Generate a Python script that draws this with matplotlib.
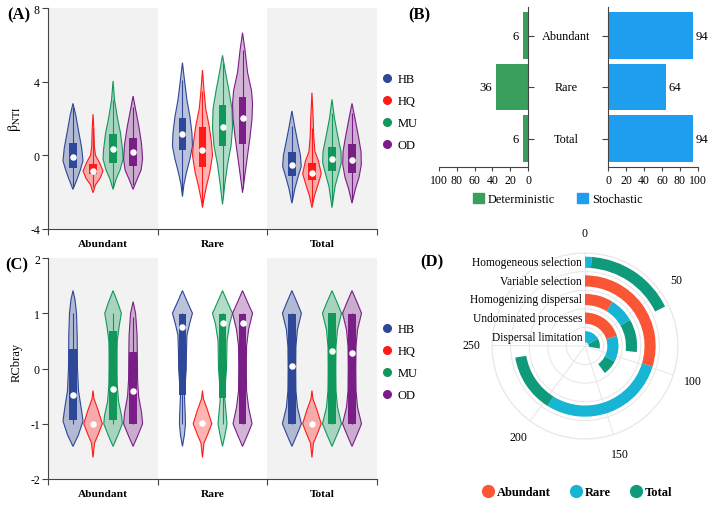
import numpy as np
import matplotlib
matplotlib.use('Agg')
import matplotlib.pyplot as plt
from matplotlib.lines import Line2D
from matplotlib.patches import Patch
from matplotlib.colors import to_rgba
import matplotlib.transforms as mtransforms

plt.rcParams['font.family'] = ['Liberation Serif', 'DejaVu Serif']
plt.rcParams['mathtext.fontset'] = 'stix'
plt.rcParams['axes.unicode_minus'] = False

# ---------------- data ----------------
groups = ['Abundant', 'Rare', 'Total']
sites = ['HB', 'HQ', 'MU', 'OD']
site_colors = ['#2e4796', '#ff1a1a', '#12975a', '#7a1e87']

# Panel A (betaNTI) violin outlines: y values and half-widths (px) per site
A_abundant_ys = [[2.82, 2.2, 1.2, 0.4, -0.3, -0.8, -1.3, -1.85],
                 [2.23, 1.5, 0.5, 0.0, -0.4, -0.85, -1.25, -1.6, -2.03],
                 [4.04, 3.0, 2.0, 1.2, 0.3, -0.2, -0.8, -1.3, -1.85],
                 [3.22, 2.5, 1.5, 0.6, -0.2, -0.8, -1.3, -1.85]]
A_abundant_ws = [[0, 2.7, 6, 8.7, 10, 7.3, 4, 0],
                 [0, 0.8, 1.3, 2.5, 6.5, 10, 7, 2.5, 0],
                 [0, 1.5, 4.5, 7.5, 9.5, 10, 7, 3, 0],
                 [0, 2.5, 6, 8.5, 9.5, 8, 4, 0]]
A_rare_ys = [[5.03, 4.1, 3.0, 2.1, 1.2, 0.5, -0.2, -0.94, -1.57, -2.24],
             [4.63, 3.4, 2.5, 1.6, 0.7, 0.0, -0.94, -1.67, -2.4, -2.84],
             [5.43, 4.5, 3.5, 2.5, 1.5, 0.5, -0.5, -1.5, -2.66],
             [6.66, 5.7, 4.5, 3.5, 2.8, 2.0, 1.0, 0.0, -1.0, -2.03]]
A_rare_ws = [[0, 2, 4.5, 7.5, 9.5, 10, 7.5, 4, 1.5, 0],
             [0, 1.7, 3.3, 6.7, 9, 10, 7.3, 4, 1.3, 0],
             [0, 3, 6.5, 9.5, 10, 8.5, 5, 2.5, 0],
             [0, 2.5, 5, 9, 10, 9.5, 7.5, 5, 2.5, 0]]
A_total_ys = [[2.41, 1.5, 0.8, 0.0, -0.6, -1.2, -1.8, -2.6],
              [3.4, 2.0, 1.0, 0.2, -0.3, -1.0, -1.6, -2.2, -2.84],
              [3.04, 2.0, 1.0, 0.2, -0.4, -1.0, -1.7, -2.84],
              [2.82, 2.0, 1.0, 0.2, -0.5, -1.2, -1.8, -2.6]]
A_total_ws = [[0, 3, 5.5, 8.5, 9.3, 6, 3, 0],
              [0, 1.2, 1.8, 3, 6.5, 9.3, 6, 2.5, 0],
              [0, 2.5, 6, 9, 9.3, 6.5, 3, 0],
              [0, 3, 6.5, 9, 9.3, 7, 3.5, 0]]
A_q1 = [[-0.67, -1.03, -0.4, -0.58], [0.29, -0.62, 0.51, 0.63], [-1.12, -1.36, -0.85, -0.98]]
A_q3 = [[0.69, -0.49, 1.14, 0.96], [2.05, 1.54, 2.71, 3.19], [0.18, -0.4, 0.45, 0.6]]
A_med = [[-0.07, -0.85, 0.33, 0.18], [1.16, 0.29, 1.54, 2.01], [-0.51, -0.98, -0.22, -0.25]]
A_wlo = [[-1.7, -1.7, -1.7, -1.6], [-2.0, -2.6, -2.3, -1.8], [-2.4, -2.6, -2.6, -2.4]]
A_whi = [[2.6, 1.5, 3.0, 2.6], [4.1, 3.5, 5.0, 5.7], [1.6, 1.5, 2.3, 2.3]]

# Panel C (RCbray) violin outlines
C_abundant_ys = [[1.41, 1.25, 1.0, 0.6, 0.0, -0.4, -0.75, -0.95, -1.2, -1.41],
                 [-0.4, -0.55, -0.75, -1.0, -1.2, -1.35, -1.61],
                 [1.41, 1.2, 1.0, 0.75, 0.5, 0.3, 0.0, -0.3, -0.6, -0.85, -1.0, -1.2, -1.41],
                 [1.21, 1.0, 0.6, 0.2, -0.2, -0.5, -0.8, -1.0, -1.2, -1.41]]
C_abundant_ws = [[0, 2, 3.5, 4.2, 4.5, 5.5, 8.5, 10, 5.5, 0],
                 [0, 1, 5, 9.3, 5, 1.5, 0],
                 [0, 4.5, 8.3, 6, 4.2, 4, 4, 4.2, 5.5, 8.5, 9.3, 5, 0],
                 [0, 2.5, 4, 4.3, 4.5, 5.5, 8.5, 9.5, 5, 0]]
C_rare_ys = [[1.41, 1.2, 1.0, 0.8, 0.6, 0.3, 0.0, -0.5, -0.8, -1.0, -1.2, -1.41],
             [-0.4, -0.55, -0.75, -1.0, -1.2, -1.35, -1.61],
             [1.41, 1.2, 1.0, 0.8, 0.5, 0.0, -0.5, -0.8, -1.0, -1.2, -1.41],
             [1.41, 1.2, 1.0, 0.7, 0.4, 0.0, -0.4, -0.7, -1.0, -1.2, -1.41]]
C_rare_ws = [[0, 5, 10, 7, 4.5, 4, 3.8, 2, 2.7, 3, 2, 0],
             [0, 1, 5, 9.3, 5, 1.5, 0],
             [0, 5, 10, 7, 4.5, 4, 2, 3.5, 4.5, 2.5, 0],
             [0, 5, 10, 6, 4, 3.8, 4, 6, 9.5, 5, 0]]
C_total_ys = [[1.41, 1.2, 1.0, 0.7, 0.4, 0.0, -0.4, -0.7, -1.0, -1.2, -1.41],
              [-0.4, -0.55, -0.75, -1.0, -1.2, -1.35, -1.61],
              [1.41, 1.2, 1.0, 0.7, 0.4, 0.0, -0.4, -0.7, -1.0, -1.2, -1.41],
              [1.41, 1.2, 1.0, 0.7, 0.4, 0.0, -0.4, -0.7, -1.0, -1.2, -1.41]]
C_total_ws = [[0, 5, 9.5, 5.5, 4, 3.8, 4, 5.5, 9.5, 5, 0],
              [0, 1, 5, 9.3, 5, 1.5, 0],
              [0, 5, 9.5, 5.5, 4, 3.8, 4, 5.5, 9.5, 5, 0],
              [0, 5, 9.5, 5.5, 4, 3.8, 4, 5.5, 9.5, 5, 0]]
C_q1 = [[-0.93, -1.0, -0.93, -1.0], [-0.48, -1.0, -0.54, -1.0], [-1.0, -1.0, -1.0, -1.0]]
C_q3 = [[0.36, -1.0, 0.67, 0.3], [0.99, -1.0, 0.99, 0.99], [0.99, -1.0, 1.0, 0.98]]
C_med = [[-0.48, -1.0, -0.38, -0.4], [0.76, -0.99, 0.82, 0.82], [0.05, -1.0, 0.31, 0.28]]
C_wlo = [[-1.0, -1.0, -1.0, -1.0], [-1.0, -1.0, -1.0, -1.0], [-1.0, -1.0, -1.0, -1.0]]
C_whi = [[1.0, -1.0, 1.0, 0.93], [1.0, -1.0, 1.0, 1.0], [1.0, -1.0, 1.0, 1.0]]

# Panel B
B_cats = ['Abundant', 'Rare', 'Total']
B_det = [6, 36, 6]
B_sto = [94, 64, 94]

# Panel D
D_procs = ['Homogeneous selection', 'Variable selection', 'Homogenizing dispersal',
           'Undominated processes', 'Dispersal limitation']
D_series = ['Abundant', 'Rare', 'Total']
D_abundant = [0.5, 99, 29.5, 67, 0.5]
D_rare = [3.5, 97, 26, 42, 56]
D_total = [55, 45, 34, 24, 36]
D_ticks = [0, 50, 100, 150, 200, 250]
D_full = 333.0
D_colors = ['#fa5535', '#18b4d4', '#0f9a7c']

# ---------------- figure ----------------
W, H = 713, 506
fig = plt.figure(figsize=(W / 100, H / 100), dpi=100)


def fx(px):
    return px / W


def fy(py):
    return 1 - py / H


def violin_panel(ax, ys_groups, ws_groups, q1, q3, med, wlo, whi, ylim, yticks):
    ax.set_xlim(-0.5, 2.5)
    ax.set_ylim(*ylim)
    for g in (0, 2):
        ax.axvspan(g - 0.5, g + 0.5, color='#f2f2f2', zorder=0, lw=0)
    px_unit = ax.get_position().width * W / 3.0
    offsets = (np.arange(4) - 1.5) * 0.183
    box_hw = 3.7 / px_unit
    for g in range(3):
        for s in range(4):
            pos = g + offsets[s]
            col = site_colors[s]
            ys = np.array(ys_groups[g][s])
            ws = np.array(ws_groups[g][s]) / px_unit
            xs = np.concatenate([pos - ws, (pos + ws)[::-1]])
            yy = np.concatenate([ys, ys[::-1]])
            ax.fill(xs, yy, facecolor=to_rgba(col, 0.33), edgecolor=col, lw=0.8, zorder=2)
            ax.vlines(pos, wlo[g][s], whi[g][s], color=col, lw=0.8, zorder=2.5)
            ax.bar(pos, q3[g][s] - q1[g][s], width=2 * box_hw, bottom=q1[g][s],
                   color=col, zorder=3, lw=0)
            ax.scatter([pos], [med[g][s]], s=22, color='white', zorder=4, lw=0)
    for sp in ('top', 'right'):
        ax.spines[sp].set_visible(False)
    for sp in ('left', 'bottom'):
        ax.spines[sp].set_color('#444444')
        ax.spines[sp].set_linewidth(0.8)
    ax.set_yticks(yticks)
    ax.set_yticklabels([str(t) for t in yticks], fontsize=8.5)
    ax.tick_params(axis='y', length=4, width=0.8, color='#444444', pad=2)
    ax.set_xticks([-0.5, 0.5, 1.5, 2.5])
    ax.set_xticklabels([])
    ax.tick_params(axis='x', which='major', length=4, width=0.8, color='#444444')
    ax.set_xticks([0, 1, 2], minor=True)
    ax.set_xticklabels(groups, minor=True, fontsize=8.2, fontweight='bold')
    ax.tick_params(axis='x', which='minor', length=0, pad=7)


# Panel A
axA = fig.add_axes([fx(48.3), fy(230), fx(328.4), 221 / H])
violin_panel(axA, [A_abundant_ys, A_rare_ys, A_total_ys], [A_abundant_ws, A_rare_ws, A_total_ws],
             A_q1, A_q3, A_med, A_wlo, A_whi, (-4, 8), [-4, 0, 4, 8])
axA.set_ylabel(r'$\mathrm{\beta_{NTI}}$', fontsize=10)
axA.yaxis.set_label_coords(-0.077, 0.5)

# Panel C
axC = fig.add_axes([fx(48.3), fy(480), fx(328.4), 221 / H])
violin_panel(axC, [C_abundant_ys, C_rare_ys, C_total_ys], [C_abundant_ws, C_rare_ws, C_total_ws],
             C_q1, C_q3, C_med, C_wlo, C_whi, (-2, 2), [-2, -1, 0, 1, 2])
axC.set_ylabel('RCbray', fontsize=9)
axC.yaxis.set_label_coords(-0.077, 0.53)

# site legends
site_handles = [Line2D([], [], marker='o', ls='', color=c, markersize=5.5) for c in site_colors]
for yc in (113, 363):
    fig.legend(site_handles, sites, loc='center left', bbox_to_anchor=(fx(381), fy(yc)),
               frameon=False, fontsize=9, handlelength=1.0, handletextpad=0.35,
               labelspacing=0.8, borderpad=0, borderaxespad=0)

# Panel B
green = '#3a9f5c'
blue = '#1f9ef0'
axL = fig.add_axes([fx(439), fy(168), fx(89), 159.7 / H])
axR = fig.add_axes([fx(608), fy(168), fx(90), 159.7 / H])
yb = np.arange(len(B_cats))
axL.barh(yb, B_det, height=0.9, color=green)
axR.barh(yb, B_sto, height=0.9, color=blue)
axL.set_xlim(100, 0)
axR.set_xlim(0, 100)
for ax in (axL, axR):
    ax.set_ylim(2.55, -0.55)
    ax.set_yticks(yb)
    ax.set_yticklabels([])
    ax.set_xticks([0, 20, 40, 60, 80, 100])
    ax.set_xticklabels(['0', '20', '40', '60', '80', '100'], fontsize=8.5)
    ax.tick_params(axis='x', length=3, width=0.8, color='#444444', pad=2)
    ax.tick_params(axis='y', length=4, width=0.8, color='#444444')
    ax.spines['top'].set_visible(False)
    for sp in ax.spines.values():
        sp.set_color('#444444')
        sp.set_linewidth(0.8)
axL.spines['left'].set_visible(False)
axL.yaxis.tick_right()
axR.spines['right'].set_visible(False)
for i, v in enumerate(B_det):
    axL.annotate(str(v), xy=(v, i), xytext=(-3, 0), textcoords='offset points',
                 ha='right', va='center', fontsize=9.2)
for i, v in enumerate(B_sto):
    axR.annotate(str(v), xy=(v, i), xytext=(2, 0), textcoords='offset points',
                 ha='left', va='center', fontsize=9.2)
trans = mtransforms.blended_transform_factory(fig.transFigure, axL.transData)
for i, c in enumerate(B_cats):
    fig.text(fx(566), i, c, transform=trans, ha='center', va='center', fontsize=8.8)
fig.legend([Patch(color=green), Patch(color=blue)], ['Deterministic', 'Stochastic'],
           loc='center', bbox_to_anchor=(fx(558), fy(200)), ncol=2, frameon=False,
           fontsize=8.8, handlelength=0.9, handleheight=0.9, handletextpad=0.3,
           columnspacing=1.8, borderpad=0)

# Panel D
R = 93
axD = fig.add_axes([fx(585 - R), fy(347 + R), fx(2 * R), 2 * R / H], projection='polar')
axD.set_theta_zero_location('N')
axD.set_theta_direction(-1)
axD.set_ylim(0, 5)
axD.set_axisbelow(True)
starts = np.zeros(len(D_procs))
r_pos = 4.5 - np.arange(len(D_procs))
for vals, col in zip([D_abundant, D_rare, D_total], D_colors):
    vals = np.array(vals, dtype=float)
    axD.bar(starts / D_full * 2 * np.pi, 0.6, width=vals / D_full * 2 * np.pi,
            bottom=r_pos - 0.3, align='edge', color=col, lw=0, zorder=3)
    starts = starts + vals
axD.set_xticks(np.array(D_ticks) / D_full * 2 * np.pi)
axD.set_xticklabels([str(t) for t in D_ticks], fontsize=8.5)
axD.tick_params(axis='x', pad=4)
axD.set_yticks([1, 2, 3, 4, 5])
axD.set_yticklabels([])
axD.grid(color='#e8e8e8', lw=0.8)
axD.spines['polar'].set_color('#e8e8e8')
axD.spines['polar'].set_linewidth(0.8)
for name, r in zip(D_procs, r_pos):
    axD.annotate(name, xy=(0, r), xytext=(-2, 0), textcoords='offset points',
                 ha='right', va='center', fontsize=8.3, annotation_clip=False, zorder=5)
D_handles = [Line2D([], [], marker='o', ls='', color=c, markersize=8.5) for c in D_colors]
fig.legend(D_handles, D_series, loc='center', bbox_to_anchor=(fx(577), fy(493)), ncol=3,
           frameon=False, prop={'size': 9, 'weight': 'bold'}, handlelength=1.0,
           handletextpad=0.2, columnspacing=1.5, borderpad=0)

# panel labels
for lab, x, y in [('(A)', 19, 15), ('(B)', 419, 15), ('(C)', 17, 265), ('(D)', 432, 262)]:
    fig.text(fx(x), fy(y), lab, ha='center', va='center', fontsize=12, fontweight='bold')

fig.savefig('out.png', dpi=100)
